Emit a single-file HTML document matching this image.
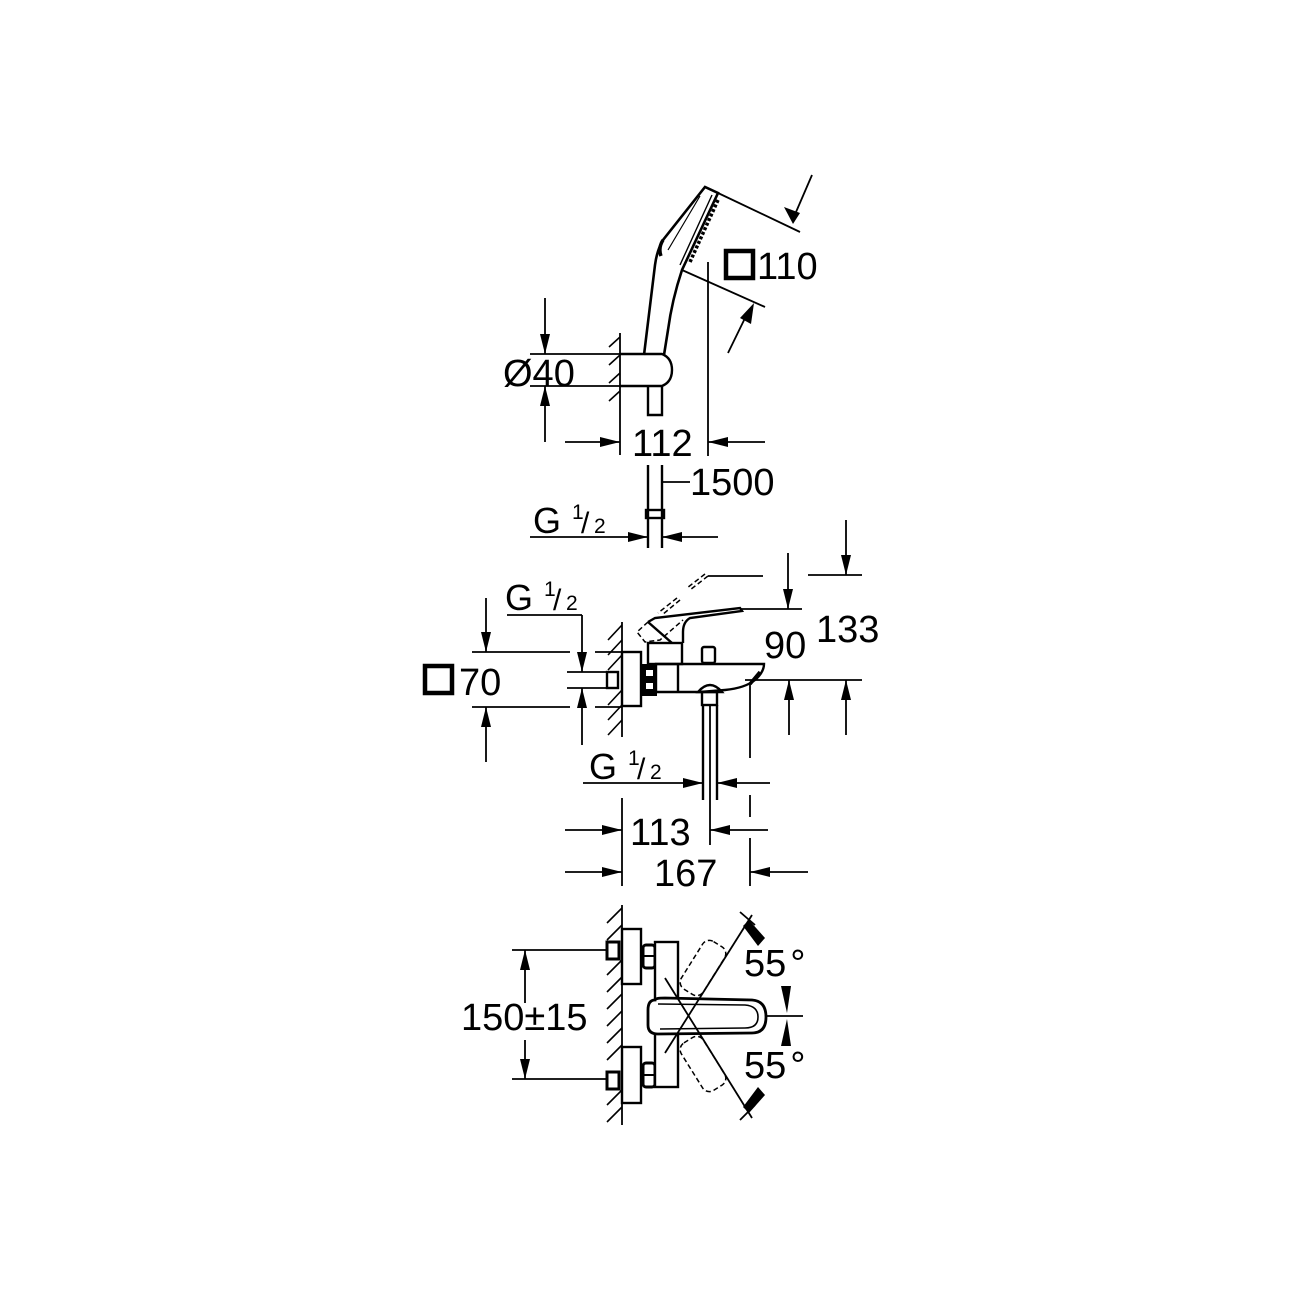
<!DOCTYPE html>
<html><head><meta charset="utf-8"><style>
html,body{margin:0;padding:0;background:#fff}
svg{display:block}
text{font-family:"Liberation Sans",Arial,sans-serif;fill:#000}
</style></head><body>
<svg width="1300" height="1300" viewBox="0 0 1300 1300" xmlns="http://www.w3.org/2000/svg">
<g stroke="#000" stroke-width="1.8" fill="none">
<!-- ===== SHOWER SECTION ===== -->
<line x1="620" y1="333" x2="620" y2="455"/>
<g stroke-width="1.6">
<line x1="620" y1="337" x2="609" y2="347"/><line x1="620" y1="355" x2="609" y2="365"/>
<line x1="620" y1="373" x2="609" y2="383"/><line x1="620" y1="391" x2="609" y2="401"/>
</g>
<line x1="530" y1="354" x2="620" y2="354"/>
<line x1="530" y1="386" x2="620" y2="386"/>
<line x1="545" y1="298" x2="545" y2="354"/>
<line x1="545" y1="386" x2="545" y2="442"/>
<path d="M620 354 H662 Q672 358 672 370 Q672 382 662 386 H620" stroke-width="2.4"/>
<path d="M648 386 V415 H662 V386" stroke-width="2.4"/>
<path d="M644 355 L655 265 Q657 250 663 240 L705 187 L718 193 L682 270 Q672 300 668 330 L664 355" stroke-width="2.6"/>
<path d="M663 240 Q658 248 661 256" stroke-width="3.5"/>
<path d="M712 195 L680 265" stroke-width="1.4"/>
<path d="M700 196 L668 250" stroke-width="1.2"/>
<path d="M718 200 L690 262" stroke-width="3.5" stroke-dasharray="3 2"/>
<line x1="718" y1="193" x2="800" y2="232"/>
<line x1="682" y1="270" x2="765" y2="307"/>
<line x1="812" y1="175" x2="793" y2="219"/>
<line x1="728" y1="353" x2="748" y2="312"/>
<line x1="708" y1="262" x2="708" y2="456"/>
<line x1="565" y1="442" x2="620" y2="442"/>
<line x1="708" y1="442" x2="765" y2="442"/>
<path d="M648 465 V548 M662 465 V548" stroke-width="2.4"/>
<line x1="662" y1="482" x2="690" y2="482"/>
<rect x="646" y="510" width="18" height="8" stroke-width="2.4"/>
<line x1="530" y1="537" x2="648" y2="537"/>
<line x1="662" y1="537" x2="718" y2="537"/>

<!-- ===== MIXER SIDE ===== -->
<line x1="846" y1="520" x2="846" y2="575"/>
<line x1="808" y1="575" x2="862" y2="575"/>
<line x1="788" y1="553" x2="788" y2="609"/>
<line x1="740" y1="609" x2="802" y2="609"/>
<line x1="708" y1="576" x2="763" y2="576"/>
<line x1="745" y1="680" x2="862" y2="680"/>
<line x1="846" y1="680" x2="846" y2="735"/>
<line x1="789" y1="680" x2="789" y2="735"/>
<g stroke-dasharray="5 3" stroke-width="1.5">
<path d="M708 576 L690 590 M705 574 L687 588"/>
<path d="M680 600 L662 615 M677 598 L658 613"/>
<path d="M648 622 L637 632 L645 642 L660 640 L683 620"/>
</g>
<line x1="622" y1="622" x2="622" y2="737"/>
<g stroke-width="1.6">
<line x1="622" y1="625" x2="608" y2="640"/><line x1="622" y1="640" x2="608" y2="655"/>
<line x1="622" y1="655" x2="608" y2="670"/><line x1="622" y1="690" x2="608" y2="705"/>
<line x1="622" y1="705" x2="608" y2="720"/><line x1="622" y1="720" x2="608" y2="735"/>
</g>
<rect x="622" y="652" width="19" height="54" stroke-width="2.4"/>
<rect x="607" y="672" width="11" height="16" stroke-width="2.4"/>
<line x1="472" y1="652" x2="570" y2="652"/><line x1="595" y1="652" x2="622" y2="652"/>
<line x1="472" y1="707" x2="570" y2="707"/><line x1="595" y1="707" x2="622" y2="707"/>
<line x1="486" y1="598" x2="486" y2="652"/>
<line x1="486" y1="707" x2="486" y2="762"/>
<line x1="507" y1="615" x2="582" y2="615"/>
<line x1="582" y1="615" x2="582" y2="672"/>
<line x1="582" y1="688" x2="582" y2="745"/>
<line x1="567" y1="672" x2="607" y2="672"/>
<line x1="567" y1="688" x2="607" y2="688"/>
<rect x="643" y="665" width="13" height="30" fill="#000" stroke-width="2"/>
<rect x="646" y="670" width="7" height="6" fill="#fff" stroke="none"/>
<rect x="646" y="683" width="7" height="6" fill="#fff" stroke="none"/>
<path d="M656 664 H764 Q764 672 755 680 Q745 688 725 690 L700 692 H656 Z" stroke-width="2.4"/>
<line x1="678" y1="664" x2="678" y2="692" stroke-width="2.4"/>
<rect x="648" y="643" width="34" height="21" stroke-width="2.4"/>
<rect x="702" y="647" width="13" height="16" rx="2" stroke-width="2.4"/>
<path d="M648 622 L655 618 L740 608 L742 611 L690 618 Q683 622 683 632 L683 643" stroke-width="2.4"/>
<path d="M648 622 L672 643" stroke-width="2.4"/>
<path d="M750 684 L760 672" stroke-width="3.5"/>
<line x1="750" y1="684" x2="750" y2="758"/>
<path d="M698 692 Q710 678 722 692 Z" stroke-width="2.4"/>
<rect x="702" y="692" width="15" height="13" stroke-width="2.4"/>
<path d="M703 705 V800 M717 705 V800" stroke-width="2.4"/>
<line x1="710" y1="705" x2="710" y2="845"/>
<line x1="583" y1="783" x2="703" y2="783"/>
<line x1="717" y1="783" x2="770" y2="783"/>
<line x1="622" y1="798" x2="622" y2="886"/>
<line x1="750" y1="795" x2="750" y2="817"/><line x1="750" y1="838" x2="750" y2="886"/>
<line x1="565" y1="830" x2="622" y2="830"/>
<line x1="710" y1="830" x2="768" y2="830"/>
<line x1="565" y1="872" x2="622" y2="872"/>
<line x1="750" y1="872" x2="808" y2="872"/>

<!-- ===== FRONT VIEW ===== -->
<line x1="622" y1="905" x2="622" y2="1125"/>
<g stroke-width="1.6">
<line x1="622" y1="908" x2="607" y2="923"/><line x1="622" y1="925" x2="607" y2="940"/>
<line x1="622" y1="960" x2="607" y2="975"/><line x1="622" y1="977" x2="607" y2="992"/>
<line x1="622" y1="994" x2="607" y2="1009"/><line x1="622" y1="1011" x2="607" y2="1026"/>
<line x1="622" y1="1028" x2="607" y2="1043"/><line x1="622" y1="1045" x2="607" y2="1060"/>
<line x1="622" y1="1090" x2="607" y2="1105"/><line x1="622" y1="1107" x2="607" y2="1122"/>
</g>
<rect x="622" y="929" width="19" height="55" stroke-width="2.4"/>
<rect x="622" y="1047" width="19" height="56" stroke-width="2.4"/>
<rect x="607" y="942" width="12" height="17" stroke-width="3"/>
<rect x="607" y="1072" width="12" height="17" stroke-width="3"/>
<rect x="643" y="945" width="12" height="23" rx="3" stroke-width="3"/>
<rect x="643" y="1063" width="12" height="24" rx="3" stroke-width="3"/>
<line x1="643" y1="956" x2="655" y2="956" stroke-width="2"/>
<line x1="643" y1="1075" x2="655" y2="1075" stroke-width="2"/>
<rect x="655" y="942" width="23" height="145" stroke-width="2.4" fill="#fff"/>
<path d="M655 1000 Q648 1000 648 1010 V1025 Q648 1034 658 1034 L752 1033 Q766 1033 766 1017 Q766 1001 752 1000 L665 998 Q655 998 655 1000 Z" stroke-width="2.8" fill="#fff"/>
<path d="M658 1004 L745 1005 Q758 1006 758 1017 Q758 1028 745 1028 L660 1029" stroke-width="1.6"/>
<line x1="766" y1="1016" x2="803" y2="1016"/>
<line x1="665" y1="1053" x2="752" y2="915"/>
<line x1="665" y1="978" x2="752" y2="1118"/>
<line x1="740" y1="912" x2="755" y2="925"/>
<line x1="740" y1="1120" x2="755" y2="1105"/>
<g stroke-dasharray="5 3" stroke-width="1.5">
<rect x="690" y="940" width="26" height="56" rx="8" transform="rotate(32 703 968)"/>
<rect x="690" y="1036" width="26" height="56" rx="8" transform="rotate(-32 703 1064)"/>
</g>
<line x1="512" y1="950" x2="607" y2="950"/>
<line x1="512" y1="1079" x2="607" y2="1079"/>
<line x1="525" y1="950" x2="525" y2="1003"/>
<line x1="525" y1="1040" x2="525" y2="1079"/>
</g>

<g fill="#000" stroke="none">
<polygon points="540,334 550,334 545,354"/>
<polygon points="540,406 550,406 545,386"/>
<polygon points="600,437 600,447 620,442"/>
<polygon points="728,437 728,447 708,442"/>
<polygon points="784,207 800,213 793,224"/>
<polygon points="754,303 740,318 751,324"/>
<polygon points="628,532 628,542 648,537"/>
<polygon points="682,532 682,542 662,537"/>
<polygon points="841,555 851,555 846,575"/>
<polygon points="783,589 793,589 788,609"/>
<polygon points="841,700 851,700 846,680"/>
<polygon points="784,700 794,700 789,680"/>
<polygon points="481,632 491,632 486,652"/>
<polygon points="481,727 491,727 486,707"/>
<polygon points="577,652 587,652 582,672"/>
<polygon points="577,708 587,708 582,688"/>
<polygon points="683,778 683,788 703,783"/>
<polygon points="737,778 737,788 717,783"/>
<polygon points="602,825 602,835 622,830"/>
<polygon points="730,825 730,835 710,830"/>
<polygon points="602,867 602,877 622,872"/>
<polygon points="770,867 770,877 750,872"/>
<polygon points="520,970 530,970 525,950"/>
<polygon points="520,1059 530,1059 525,1079"/>
<polygon points="743,926 749,920 765,938 758,946"/>
<polygon points="743,1107 749,1113 765,1095 758,1087"/>
<polygon points="781,986 791,986 787,1013"/>
<polygon points="781,1046 791,1046 787,1019"/>
</g>

<rect x="726" y="251" width="27" height="27" fill="none" stroke="#000" stroke-width="4.5"/>
<rect x="425" y="666" width="27" height="27" fill="none" stroke="#000" stroke-width="4.5"/>

<g font-size="38">
<text x="503" y="386">Ø40</text>
<text x="757" y="279">110</text>
<text x="632" y="456">112</text>
<text x="690" y="495">1500</text>
<text x="816" y="642">133</text>
<text x="764" y="658">90</text>
<text x="459" y="695">70</text>
<text x="630" y="845">113</text>
<text x="654" y="886">167</text>
<text x="461" y="1030">150±15</text>
<text x="744" y="976">55<tspan dx="4">°</tspan></text>
<text x="744" y="1078">55<tspan dx="4">°</tspan></text>
</g>
<g>
<text x="533" y="533" font-size="36">G</text><text x="572" y="519" font-size="21">1</text><text x="581" y="533" font-size="30">/</text><text x="594" y="533" font-size="21">2</text>
<text x="505" y="610" font-size="36">G</text><text x="544" y="596" font-size="21">1</text><text x="553" y="610" font-size="30">/</text><text x="566" y="610" font-size="21">2</text>
<text x="589" y="779" font-size="36">G</text><text x="628" y="765" font-size="21">1</text><text x="637" y="779" font-size="30">/</text><text x="650" y="779" font-size="21">2</text>
</g>
</svg>
</body></html>
